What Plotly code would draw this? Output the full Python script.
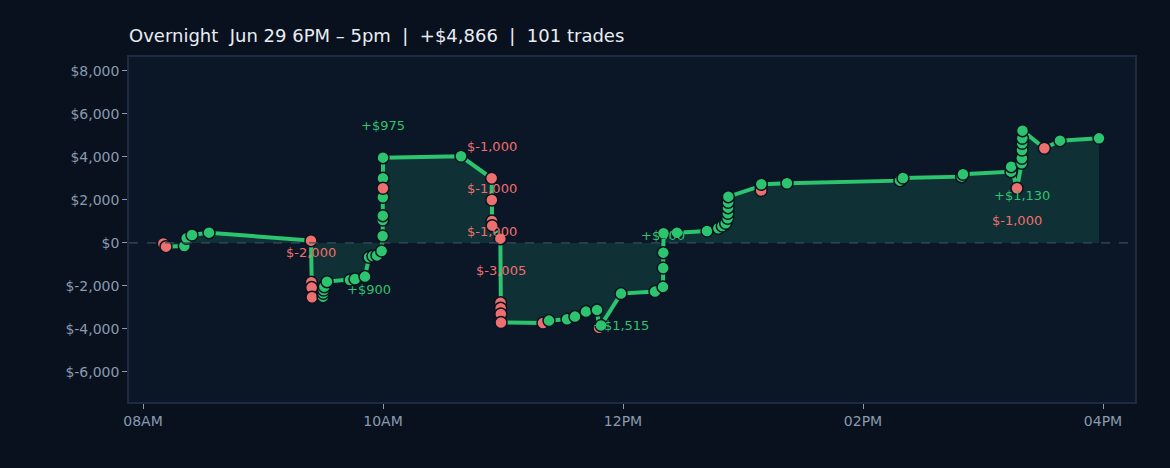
import plotly.graph_objects as go
import pandas as pd

# trade times (Jun 29) and cumulative P&L after each trade
times = [
    "08:10:10", "08:11:30", "08:20:40", "08:21:50", "08:24:30", "08:33:00",
    "09:24:00", "09:24:10", "09:24:20", "09:24:30",
    "09:30:00", "09:30:10", "09:30:20", "09:30:40", "09:32:00",
    "09:43:30", "09:46:00", "09:51:00", "09:53:00", "09:55:00", "09:57:00",
    "09:59:20", "09:59:50", "09:59:52", "09:59:54", "09:59:56", "09:59:58",
    "09:59:59", "10:00:00",
    "10:39:00",
    "10:54:20", "10:54:25", "10:54:30", "10:54:35",
    "10:58:40", "10:58:45", "10:58:50", "10:58:55", "10:59:00",
    "11:20:00", "11:23:00", "11:32:00", "11:36:00", "11:41:30", "11:47:00",
    "11:48:00", "11:49:00", "11:59:00", "12:16:00",
    "12:20:00", "12:20:05", "12:20:10", "12:20:15",
    "12:27:00", "12:42:00", "12:47:40", "12:49:40", "12:51:20",
    "12:52:20", "12:52:25", "12:52:30", "12:52:35", "12:52:40",
    "13:09:00", "13:09:05", "13:09:10", "13:22:00",
    "14:18:30", "14:20:00", "14:49:20", "14:50:00",
    "15:14:00", "15:14:05", "15:17:00",
    "15:19:20", "15:19:25", "15:19:30", "15:19:35", "15:19:40", "15:19:45",
    "15:30:40", "15:38:30", "15:58:00",
]
equity = [
    -30, -172, -140, 219, 372, 479,
    107, -1828, -2079, -2526,
    -2498, -2339, -2186, -2033, -1800,
    -1721, -1674, -1567, -665, -605, -580,
    -372, 326, 1070, 1270, 2126, 3009,
    2544, 3967,
    4032,
    3009, 2000, 1023, 805,
    200, -2777, -3037, -3302, -3698,
    -3721, -3614, -3549, -3428, -3195, -3116,
    -3944, -3837, -2358, -2265,
    -2046, -1163, -451, 451,
    479, 558, 684, 791, 916,
    1149, 1381, 1642, 1893, 2153,
    2651, 2442, 2730, 2777,
    2898, 3023, 3084, 3195,
    3316, 3549, 2544,
    3707, 3939, 4325, 4637, 4870, 5223,
    4405, 4758, 4866,
]

# labelled trades: (trade number, text, pixel shift)
labels = [
    (8, "$-2,000", 30),
    (19, "+$900", -32),
    (29, "+$975", 32),
    (31, "$-1,000", 32),
    (32, "$-1,000", -32),
    (33, "$-1,000", 32),
    (36, "$-3,005", 32),
    (48, "+$1,515", -32),
    (51, "+$900", 32),
    (74, "$-1,000", -32),
    (75, "+$1,130", -32),
]

GREEN = "#2dc46f"
RED = "#ee6f6f"
BG = "#08111d"

x = pd.to_datetime(["2023-06-29 " + t for t in times])
prev = [0] + equity[:-1]
colors = [GREEN if e >= p else RED for e, p in zip(equity, prev)]

fig = go.Figure()
fig.add_trace(go.Scatter(
    x=x, y=equity,
    mode="lines+markers",
    line=dict(color=GREEN, width=4),
    fill="tozeroy",
    fillcolor="rgba(30,120,90,0.28)",
    marker=dict(size=12, color=colors, line=dict(color="#0a1420", width=1.5)),
    showlegend=False,
))

for idx, text, shift in labels:
    fig.add_annotation(
        x=x[idx - 1], y=equity[idx - 1], text=text, showarrow=False,
        yshift=shift,
        font=dict(size=13, color=GREEN if text.startswith("+") else RED),
    )

fig.add_hline(y=0, line=dict(color="#3a4b5c", width=1.3, dash="dash"))

fig.update_layout(
    width=1170, height=468,
    title=dict(text="Overnight  Jun 29 6PM – 5pm  |  +$4,866  |  101 trades",
               x=0, xref="paper", y=0.923, yanchor="middle",
               font=dict(size=18, color="#e8edf3")),
    paper_bgcolor=BG,
    plot_bgcolor="#0b1626",
    font=dict(family="DejaVu Sans", color="#8a9ab0", size=14),
    margin=dict(l=129, r=35, t=57, b=66),
    xaxis=dict(
        range=[pd.Timestamp("2023-06-29 07:53"), pd.Timestamp("2023-06-29 16:16")],
        tickformat="%I%p", dtick=2 * 3600 * 1000,
        tick0="2023-06-29 08:00",
        showgrid=False, zeroline=False,
        showline=True, linecolor="#1c2b40", linewidth=1.5, mirror=True,
        ticks="outside", ticklen=5, tickcolor="#8a9ab0",
    ),
    yaxis=dict(
        range=[-7400, 8650],
        tickvals=[-6000, -4000, -2000, 0, 2000, 4000, 6000, 8000],
        ticktext=["$-6,000", "$-4,000", "$-2,000", "$0", "$2,000",
                  "$4,000", "$6,000", "$8,000"],
        showgrid=False, zeroline=False,
        showline=True, linecolor="#1c2b40", linewidth=1.5, mirror=True,
        ticks="outside", ticklen=5, tickcolor="#8a9ab0",
    ),
)

fig.write_html(
    "out.html",
    config={"displayModeBar": False},
    post_script=f"document.body.style.margin='0';"
                f"document.body.style.background='{BG}';",
)
